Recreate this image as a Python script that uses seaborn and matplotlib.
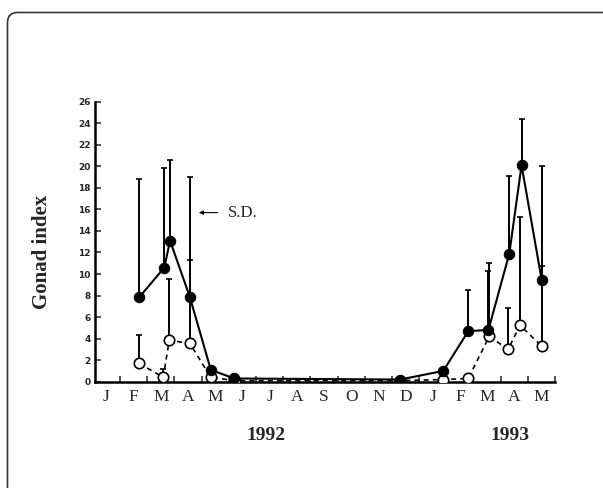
import numpy as np
import pandas as pd
import seaborn as sns
import matplotlib
matplotlib.use("Agg")
import matplotlib.pyplot as plt
from matplotlib.patches import FancyBboxPatch
from matplotlib.transforms import IdentityTransform

# month axis: 0 = start of Jan 1992, 17 = end of May 1993
month_labels = ['J', 'F', 'M', 'A', 'M', 'J', 'J', 'A', 'S', 'O', 'N', 'D',
                'J', 'F', 'M', 'A', 'M']
year_labels = ['1992', '1993']
year_pos = [266, 510]  # pixel centres of the year captions

# filled circles (solid line)
filled_month = [1.71, 2.63, 2.84, 3.57, 4.34, 5.20, 11.30, 12.89,
                13.81, 14.55, 15.32, 15.77, 16.51]
filled_mean = [7.85, 10.6, 13.1, 7.85, 1.1, 0.3, 0.2, 1.0,
               4.7, 4.8, 11.9, 20.1, 9.45]
filled_sd = [10.95, 9.2, 7.5, 11.15, 0, 0, 0, 0,
             3.8, 5.5, 7.2, 4.3, 10.55]

# open circles (dashed line)
open_month = [1.71, 2.59, 2.81, 3.57, 4.34, 5.22, 11.30, 12.89,
              13.81, 14.58, 15.28, 15.71, 16.51]
open_mean = [1.7, 0.4, 3.85, 3.55, 0.4, 0.1, 0.1, 0.2,
             0.3, 4.2, 3.0, 5.25, 3.3]
open_sd = [2.65, 0.75, 5.65, 7.75, 0, 0, 0, 0,
           0, 6.8, 3.8, 10.05, 7.4]

df_filled = pd.DataFrame({'month': filled_month, 'gi': filled_mean, 'sd': filled_sd})
df_open = pd.DataFrame({'month': open_month, 'gi': open_mean, 'sd': open_sd})

sns.set_style('ticks')
plt.rcParams['font.family'] = ['Liberation Serif', 'DejaVu Serif']

W, H = 603, 488
fig = plt.figure(figsize=(W / 100, H / 100), dpi=100)
ax = fig.add_axes([95 / W, 1 - 381.7 / H, (555 - 95) / W, (381.7 - 101.7) / H])

# error bars (upward S.D. only)
for df, z in [(df_open, 2), (df_filled, 4)]:
    d = df[df['sd'] > 0]
    ax.errorbar(d['month'], d['gi'], yerr=[np.zeros(len(d)), d['sd']],
                fmt='none', ecolor='black', elinewidth=1.4, capsize=2.3,
                capthick=1.2, zorder=z)

sns.lineplot(data=df_open, x='month', y='gi', ax=ax, color='black',
             linewidth=1.2, linestyle=(0, (3, 2.5)), marker='o',
             markersize=7.5, markerfacecolor='white', markeredgecolor='black',
             markeredgewidth=1.2, errorbar=None, zorder=3)
sns.lineplot(data=df_filled, x='month', y='gi', ax=ax, color='black',
             linewidth=1.5, marker='o', markersize=7.5,
             markerfacecolor='black', markeredgecolor='black',
             errorbar=None, zorder=5)

ax.set_xlim(0.08, 17)
ax.set_ylim(0, 26)
sns.despine(ax=ax)
for s in ['left', 'bottom']:
    ax.spines[s].set_linewidth(1.8)
    ax.spines[s].set_color('black')

ax.set_xticks(np.arange(1, 18))
ax.set_xticklabels([])
ax.set_xticks(np.arange(len(month_labels)) + 0.5, minor=True)
ax.set_xticklabels(month_labels, minor=True, fontsize=12.5)
ax.tick_params(axis='x', which='major', direction='in', length=4, width=1.1)
ax.tick_params(axis='x', which='minor', length=0, pad=5)

ax.set_yticks(np.arange(0, 27, 2))
ax.set_yticklabels([str(v) for v in range(0, 27, 2)],
                   fontsize=6.5, fontweight='bold', family='DejaVu Sans')
ax.tick_params(axis='y', direction='in', length=4, width=1.1, pad=3)
ax.set_xlabel('')
ax.set_ylabel('')

ax.annotate('S.D.', xy=(3.9, 15.7), xytext=(4.97, 15.7),
            fontsize=12, va='center', ha='left',
            arrowprops=dict(arrowstyle='-|>', lw=0.8, color='black',
                            shrinkA=5, shrinkB=0, mutation_scale=6))

fig.text(42 / W, 1 - 252 / H, 'Gonad index', rotation=90, fontsize=15,
         fontweight='bold', ha='center', va='center')
for lab, px in zip(year_labels, year_pos):
    fig.text(px / W, 1 - 436 / H, lab, fontsize=14, fontweight='bold',
             ha='center', va='center')

frame = FancyBboxPatch((7.5, -30), 700, H - 12.5 + 30,
                       boxstyle='round,pad=0,rounding_size=10',
                       transform=IdentityTransform(), facecolor='none',
                       edgecolor='#333333', linewidth=1.2)
fig.patches.append(frame)

fig.savefig('out.png', dpi=100)
